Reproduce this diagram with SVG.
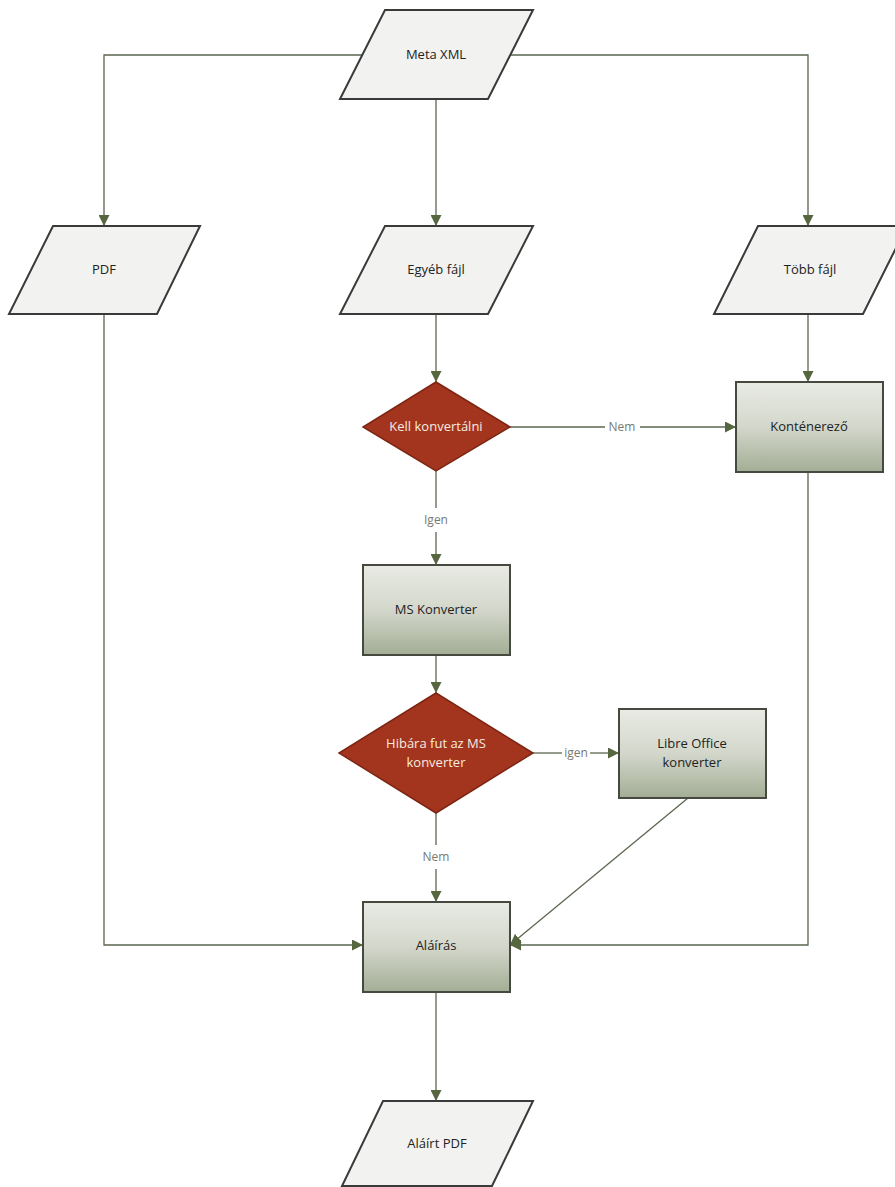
<svg xmlns="http://www.w3.org/2000/svg" width="895" height="1187" viewBox="0 0 895 1187">
<defs>
<linearGradient id="rg" x1="0" y1="0" x2="0" y2="1">
<stop offset="0" stop-color="#e9ebe4"/>
<stop offset="0.5" stop-color="#d3d7cb"/>
<stop offset="1" stop-color="#a3ad95"/>
</linearGradient>
<marker id="ah" viewBox="0 0 10 10" refX="10" refY="5" markerWidth="11" markerHeight="11" markerUnits="userSpaceOnUse" orient="auto">
<path d="M0,0 L10,5 L0,10 z" fill="#56663f"/>
</marker>
<style>
.io{fill:#f2f2f0;stroke:#3a3a3a;stroke-width:2}
.pr{fill:url(#rg);stroke:#45493f;stroke-width:2}
.dc{fill:#a3341d;stroke:#7d2614;stroke-width:1.5}
.t{font-family:"Open Sans","DejaVu Sans",sans-serif;font-size:13px;fill:#222;text-anchor:middle}
.tw{font-family:"Open Sans","DejaVu Sans",sans-serif;font-size:13px;fill:#f6ece0;text-anchor:middle}
.lb{font-family:"Open Sans","DejaVu Sans",sans-serif;font-size:12px;fill:#787a72;text-anchor:middle}
.c{fill:none;stroke:#5b6650;stroke-width:1.3;marker-end:url(#ah)}
.cn{fill:none;stroke:#5b6650;stroke-width:1.3}
</style>
</defs>
<rect width="895" height="1187" fill="#ffffff"/>
<g id="connectors">
<path class="c" d="M362,55 H104 V226"/>
<path class="c" d="M436,99 V226"/>
<path class="c" d="M510,55 H808 V226"/>
<path class="c" d="M104,314 V945 H363"/>
<path class="c" d="M436,314 V382"/>
<path class="cn" d="M510,427 H605"/>
<path class="c" d="M640,427 H736"/>
<path class="c" d="M808,314 V382"/>
<path class="cn" d="M436,471 V508"/>
<path class="c" d="M436,532 V565"/>
<path class="c" d="M436,655 V693"/>
<path class="cn" d="M533,753 H562"/>
<path class="c" d="M590,753 H619"/>
<path class="cn" d="M436,813 V845"/>
<path class="c" d="M436,869 V902"/>
<path class="c" d="M688,798 L510,945"/>
<path class="c" d="M808,472 V945 H510"/>
<path class="c" d="M436,992 V1101"/>
<text class="lb" x="622" y="431">Nem</text>
<text class="lb" x="436" y="524">Igen</text>
<text class="lb" x="576" y="757">igen</text>
<text class="lb" x="436" y="861">Nem</text>
</g>
<g id="meta-xml">
<polygon class="io" points="385,10 533,10 488,99 340,99"/>
<text class="t" x="436" y="59">Meta XML</text>
</g>
<g id="pdf">
<polygon class="io" points="53,226 200,226 157,314 9,314"/>
<text class="t" x="104" y="274">PDF</text>
</g>
<g id="egyeb-fajl">
<polygon class="io" points="385,226 533,226 488,314 340,314"/>
<text class="t" x="436" y="274">Egyéb fájl</text>
</g>
<g id="tobb-fajl">
<polygon class="io" points="758,226 907,226 863,314 714,314"/>
<text class="t" x="810" y="274">Több fájl</text>
</g>
<g id="kell-konvertalni">
<polygon class="dc" points="436,382 510,427 436,471 363,427"/>
<text class="tw" x="436" y="431">Kell konvertálni</text>
</g>
<g id="kontenerezo">
<rect class="pr" x="736" y="382" width="147" height="90"/>
<text class="t" x="809" y="431">Konténerező</text>
</g>
<g id="ms-konverter">
<rect class="pr" x="363" y="565" width="147" height="90"/>
<text class="t" x="436" y="614">MS Konverter</text>
</g>
<g id="hibara">
<polygon class="dc" points="436,693 533,753 436,813 339,753"/>
<text class="tw" x="436" y="748">Hibára fut az MS</text>
<text class="tw" x="436" y="767">konverter</text>
</g>
<g id="libre-office">
<rect class="pr" x="619" y="709" width="147" height="89"/>
<text class="t" x="692" y="748">Libre Office</text>
<text class="t" x="692" y="767">konverter</text>
</g>
<g id="alairas">
<rect class="pr" x="363" y="902" width="147" height="90"/>
<text class="t" x="436" y="950">Aláírás</text>
</g>
<g id="alairt-pdf">
<polygon class="io" points="383,1101 533,1101 492,1186 342,1186"/>
<text class="t" x="437" y="1148">Aláírt PDF</text>
</g>
</svg>
